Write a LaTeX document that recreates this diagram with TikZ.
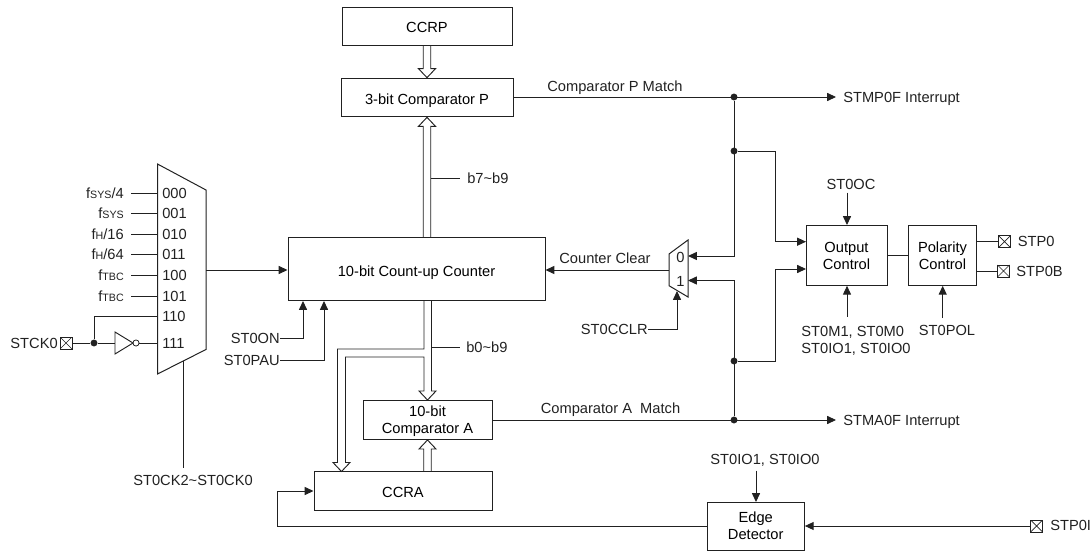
\documentclass[tikz,border=0pt]{standalone}
\usepackage{fontspec}
\setmainfont{Liberation Sans}
\usetikzlibrary{arrows.meta,calc}

\definecolor{inkline}{rgb}{0.13,0.13,0.13}
\newcommand{\fsub}[2]{f{\fontsize{8}{9}\selectfont #1}#2}
% hollow bus arrows, from one named point to another
\newcommand{\busdown}[2]{\draw[bus] ($(#1)+(-3.75,0)$) -- ($(#2)+(-3.75,-9)$) -- ($(#2)+(-8.5,-9)$) -- (#2) -- ($(#2)+(8.5,-9)$) -- ($(#2)+(3.75,-9)$) -- ($(#1)+(3.75,0)$);}
\newcommand{\busup}[2]{\draw[bus] ($(#1)+(-3.75,0)$) -- ($(#2)+(-3.75,9)$) -- ($(#2)+(-8.5,9)$) -- (#2) -- ($(#2)+(8.5,9)$) -- ($(#2)+(3.75,9)$) -- ($(#1)+(3.75,0)$);}

\tikzset{
  wire/.style={draw=inkline,line width=0.7pt},
  sig/.style={wire,-{Triangle[length=6.6pt,width=6pt]}},
  bus/.style={draw=inkline,line width=0.7pt,line join=miter},
  block/.style={draw=inkline,line width=0.75pt,inner sep=0pt,align=center},
  oneline/.style={text height=10pt,text depth=0pt},
  txt/.style={inner sep=0pt,text=inkline,align=left,text depth=0pt},
  junct/.style={circle,fill=inkline,inner sep=0pt,minimum size=5.2pt},
  padbox/.style={draw=inkline,line width=0.7pt,inner sep=0pt,minimum size=9pt,
    path picture={\draw[inkline,line width=0.5pt] (path picture bounding box.north west) -- (path picture bounding box.south east)
      (path picture bounding box.north east) -- (path picture bounding box.south west);}},
  bubble/.style={circle,draw=inkline,line width=0.6pt,inner sep=0pt,minimum size=4.6pt},
}

\begin{document}
\begin{tikzpicture}[x=0.75pt,y=0.75pt,yscale=-1,xscale=1,font=\fontsize{11}{12.8}\selectfont]
\useasboundingbox (0,0) rectangle (1092,552);

% Blocks
\node[block,oneline,minimum width=127.5pt,minimum height=28.5pt] (ccrp) at (427,26.3) {CCRP};
\node[block,oneline,minimum width=129pt,minimum height=29pt] (cmpp) at (427,97.5) {3-bit Comparator P};
\node[block,oneline,minimum width=192.75pt,minimum height=47.25pt] (counter) at (416.5,269.5) {10-bit Count-up Counter};
\node[block,text depth=0pt,minimum width=96.75pt,minimum height=29.25pt] (cmpa) at (427.5,420) {10-bit\\Comparator A};
\node[block,oneline,minimum width=133.5pt,minimum height=29.25pt] (ccra) at (403,491) {CCRA};
\node[block,minimum width=60.75pt,minimum height=45.5pt] (outctl) at (846.5,255.5) {Output\\Control};
\node[block,minimum width=50.5pt,minimum height=45.5pt] (polctl) at (942.5,255.5) {Polarity\\Control};
\node[block,minimum width=73pt,minimum height=36pt] (edge) at (755.7,526) {Edge\\Detector};

% Clock selector
\draw[wire,line width=0.75pt] (157.5,164) -- (206,190) -- (206,349.5) -- (157.5,374) -- cycle;
\foreach \y/\lab/\sel/\nm in {193/{\fsub{SYS}{/4}}/000/a,213.5/{\fsub{SYS}{}}/001/b,234/{\fsub{H}{/16}}/010/c,
  254.5/{\fsub{H}{/64}}/011/d,275/{\fsub{TBC}{}}/100/e,296/{\fsub{TBC}{}}/101/f}{
  \node[txt,anchor=east] (clk\nm) at (124,\y) {\lab};
  \node[txt,anchor=west] (sel\nm) at (162,\y) {\sel};
  \coordinate (pin\nm) at (157.5,\y);
  \draw[wire] (131,\y) -- (pin\nm);
}
\node[txt,anchor=west] (selg) at (162,316.5) {110};
\node[txt,anchor=west] (selh) at (162,343) {111};
\node[txt,anchor=east] (stck) at (58,343) {STCK0};
\node[padbox] (stckpad) at (66,343) {};
\node[junct] (stckdot) at (94,343) {};
\coordinate (ping) at (157.5,316.5);
\coordinate (pinh) at (157.5,343);
\draw[wire] (stckpad) -- (stckdot);
\draw[wire] (stckdot) |- (ping);
% Inverter
\coordinate (inva) at (115,343);
\draw[wire] (115,332) -- (133,343) -- (115,354) -- cycle;
\node[bubble] (invb) at (136,343) {};
\draw[wire] (stckdot) -- (inva);
\draw[wire] (invb) -- (pinh);
\coordinate (muxout) at (206,270);
\draw[sig] (muxout) -- (counter.west |- muxout);
\coordinate (muxsel) at (183,361);
\coordinate (muxselend) at (183,468);
\draw[wire] (muxsel) -- (muxselend);
\node[txt] (cksel) at (193,480) {ST0CK2\textasciitilde ST0CK0};

% Counter enables
\node[txt,anchor=east] (st0on) at (280,338) {ST0ON};
\node[txt,anchor=east] (st0pau) at (280,360) {ST0PAU};
\coordinate (ontip) at (303,301);
\coordinate (pautip) at (324,301);
\draw[sig] (st0on.east) -| (ontip);
\draw[sig] (st0pau.east) -| (pautip);

% Buses
\coordinate (ccratop) at (427.5,471.5);
\coordinate (ccraleft) at (341.5,471.5);
\busdown{ccrp.south}{cmpp.north}
\busup{counter.north -| ccrp}{cmpp.south}
\busup{ccratop}{cmpa.south}
\draw[bus] (424,301) -- (424,349) -- (337.5,349) -- (337.5,462.5) -- (333,462.5) -- (ccraleft) -- (350,462.5) -- (345.5,462.5) -- (345.5,357) -- (424,357) -- (424,391) -- (419,391) -- (cmpa.north) -- (436,391) -- (431.5,391) -- (431.5,301);
\coordinate (b7) at (431,178);
\coordinate (b0) at (431.5,347);
\node[txt,anchor=west] (b7lab) at (467,178) {b7\textasciitilde b9};
\node[txt,anchor=west] (b0lab) at (466,347) {b0\textasciitilde b9};
\draw[wire] (b7) -- (460,178);
\draw[wire] (b0) -- (460,347);

% Match outputs
\node[txt,anchor=west] (stmp) at (843,97) {STMP0F Interrupt};
\node[txt,anchor=west] (stma) at (843,420) {STMA0F Interrupt};
\node[txt] (pmatch) at (615,86) {Comparator P Match};
\node[txt] (amatch) at (610.5,408) {Comparator A\ \ Match};
\node[junct] (pdot) at (734,97) {};
\node[junct] (adot) at (734,420) {};
\node[junct] (pdot2) at (734,151) {};
\node[junct] (adot2) at (734,361) {};
\draw[sig] (cmpp.east |- pdot) -- (836,97);
\draw[sig] (cmpa.east |- adot) -- (836,420);

% Clear selector
\draw[wire,line width=0.75pt] (669,254) -- (688,240) -- (688,297) -- (669,285.7) -- cycle;
\node[txt] (mux0) at (680.5,257) {0};
\node[txt] (mux1) at (680.5,281.5) {1};
\coordinate (in0) at (688,256);
\coordinate (in1) at (688,280.5);
\coordinate (clrout) at (669,270);
\coordinate (clrtip) at (677,291);
\draw[sig] (pdot) |- (in0);
\draw[sig] (adot) |- (in1);
\draw[sig] (clrout) -- (counter.east |- clrout);
\node[txt] (clrlab) at (605,258) {Counter Clear};
\node[txt,anchor=east] (st0cclr) at (648,329) {ST0CCLR};
\draw[sig] (st0cclr.east) -| (clrtip);

% Output stage
\coordinate (outin0) at (806,241.7);
\coordinate (outin1) at (806,269);
\draw[sig] (pdot2) -| (775,241.7) -- (outin0);
\draw[sig] (adot2) -| (775,269) -- (outin1);
\draw[wire] (outctl) -- (polctl);
\node[txt] (st0oc) at (851,184) {ST0OC};
\draw[sig] (847,192.7) -- (847,225);
\node[txt] (st0m) at (856,339.5) {ST0M1, ST0M0\\ST0IO1, ST0IO0};
\draw[sig] (847,316.7) -- (847,285.8);
\node[txt] (st0pol) at (947,330) {ST0POL};
\draw[sig] (942.7,318) -- (942.7,285.8);
\node[padbox] (stp0pad) at (1004.5,241.7) {};
\node[padbox] (stp0bpad) at (1003.5,271) {};
\node[txt,anchor=west] (stp0) at (1017.5,241.7) {STP0};
\node[txt,anchor=west] (stp0b) at (1016,271) {STP0B};
\draw[wire] (polctl.east |- stp0pad) -- (stp0pad);
\draw[wire] (polctl.east |- stp0bpad) -- (stp0bpad);

% Capture input
\node[padbox] (stp0ipad) at (1036.7,526) {};
\node[txt,anchor=west] (stp0i) at (1050,525.5) {STP0I};
\node[txt] (edgeio) at (765,459) {ST0IO1, ST0IO0};
\draw[sig] (stp0ipad) -- (edge);
\draw[sig] (756,470.7) -- (756,502);
\coordinate (fbcorner) at (277,526);
\draw[sig] (edge) -- (fbcorner) |- (ccra.west);

\end{tikzpicture}
\end{document}
